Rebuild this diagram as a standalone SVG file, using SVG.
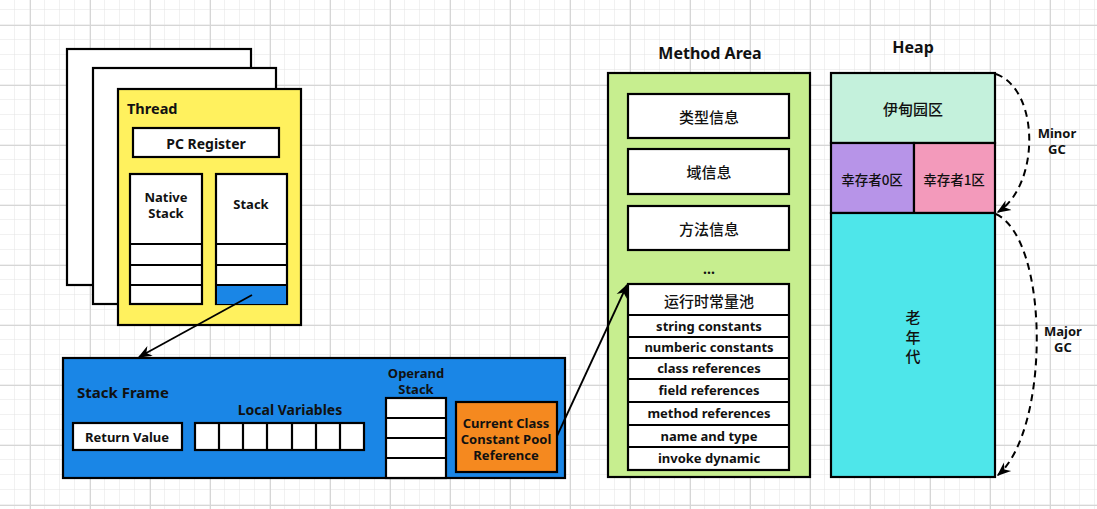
<svg xmlns="http://www.w3.org/2000/svg" width="1097" height="509" viewBox="0 0 1097 509">
<defs>
<pattern id="g" x="0" y="10" width="15" height="15" patternUnits="userSpaceOnUse">
<path d="M15 0V15M0 15H15" fill="none" stroke="#e3e3e3" stroke-width="1"/>
</pattern>
<pattern id="G" x="30" y="25" width="60" height="60" patternUnits="userSpaceOnUse">
<path d="M0.5 0V60M0 0.5H60" fill="none" stroke="#d6d6d6" stroke-width="1"/>
</pattern>
<marker id="ah2" viewBox="0 0 10 10" refX="9" refY="5" markerWidth="14" markerHeight="14" markerUnits="userSpaceOnUse" orient="auto">
<path d="M0 1L10 5L0 9L3 5Z" fill="#000"/>
</marker>
</defs>
<style>
.b{stroke:#000;stroke-width:2.2}
.t{font-family:"Noto Sans","Noto Sans CJK SC",sans-serif;font-weight:bold;font-size:13px;fill:#111;text-anchor:middle;dominant-baseline:central}
.h{font-size:16px}
.c{font-family:"Noto Sans CJK SC","Noto Sans",sans-serif;font-weight:500;font-size:15px}
.l{text-anchor:start}
.w{fill:#fff}
</style>
<rect width="1097" height="509" fill="#fff"/>
<rect width="1097" height="509" fill="url(#g)"/>
<rect width="1097" height="509" fill="url(#G)"/>

<g id="thread-back2"><rect x="67" y="49" width="184" height="236" class="b w"/></g>
<g id="thread-back1"><rect x="93" y="68" width="183" height="236" class="b w"/></g>
<g id="thread">
<rect x="118" y="89" width="183" height="236" class="b" fill="#fff15e"/>
<text x="127" y="108" class="t l" style="font-size:14.5px">Thread</text>
</g>
<g id="pc-register"><rect x="133" y="128" width="146" height="29" class="b w"/><text x="206" y="143" class="t" style="font-size:14px">PC Register</text></g>
<g id="native-stack">
<rect x="130" y="174" width="72" height="130" class="b w"/>
<path d="M130 244H202M130 265H202M130 285H202" class="b"/>
<text x="166" y="196.5" class="t"><tspan x="166">Native</tspan><tspan x="166" dy="16">Stack</tspan></text>
</g>
<g id="stack">
<rect x="216" y="174" width="71" height="130" class="b w"/>
<rect x="217" y="285" width="69" height="19" fill="#1a86e6"/>
<path d="M216 244H287M216 265H287M216 285H287" class="b"/>
<text x="251" y="204" class="t">Stack</text>
</g>

<g id="stack-frame">
<rect x="63" y="358" width="502" height="120" class="b" fill="#1a86e6"/>
<text x="77" y="392" class="t l" style="font-size:15px">Stack Frame</text>
</g>
<g id="return-value"><rect x="73" y="423" width="109" height="27" class="b w"/><text x="127" y="437" class="t">Return Value</text></g>
<g id="local-variables">
<text x="290" y="409" class="t" style="font-size:14px">Local Variables</text>
<rect x="195" y="423" width="169" height="27" class="b w"/>
<path d="M219 423V450M243 423V450M267 423V450M292 423V450M316 423V450M340 423V450" class="b"/>
</g>
<g id="operand-stack">
<text x="416" y="372.5" class="t"><tspan x="416">Operand</tspan><tspan x="416" dy="16">Stack</tspan></text>
<rect x="386" y="398" width="60" height="80" class="b w"/>
<path d="M386 418H446M386 438H446M386 458H446" class="b"/>
</g>
<g id="constant-pool-ref">
<rect x="456" y="402" width="101" height="70" class="b" fill="#f5891f"/>
<text x="506" y="423" class="t"><tspan x="506">Current Class</tspan><tspan x="506" dy="16">Constant Pool</tspan><tspan x="506" dy="16">Reference</tspan></text>
</g>

<g id="method-area">
<text x="710" y="53" class="t h">Method Area</text>
<rect x="608" y="73" width="202" height="404" class="b" fill="#c7ee8f"/>
</g>
<g id="type-info"><rect x="628" y="94" width="161" height="44" class="b w"/><text x="709" y="116" class="t c">类型信息</text></g>
<g id="field-info"><rect x="628" y="149" width="161" height="45" class="b w"/><text x="709" y="171" class="t c">域信息</text></g>
<g id="method-info"><rect x="628" y="206" width="161" height="44" class="b w"/><text x="709" y="228" class="t c">方法信息</text></g>
<g id="ellipsis"><text x="709" y="268" class="t" style="font-size:14px">...</text></g>
<g id="runtime-constant-pool">
<rect x="628" y="284" width="161" height="186" class="b w"/>
<path d="M628 315H789M628 337H789M628 358H789M628 379H789M628 402H789M628 425H789M628 447H789" class="b"/>
<text x="709" y="300" class="t c">运行时常量池</text>
<text x="709" y="326" class="t">string constants</text>
<text x="709" y="347" class="t">numberic constants</text>
<text x="709" y="368" class="t">class references</text>
<text x="709" y="390" class="t">field references</text>
<text x="709" y="413" class="t">method references</text>
<text x="709" y="436" class="t">name and type</text>
<text x="709" y="458" class="t">invoke dynamic</text>
</g>

<g id="heap">
<text x="913" y="47" class="t h">Heap</text>
</g>
<g id="eden"><rect x="831" y="73" width="164" height="70" class="b" fill="#c4f1dc"/><text x="913" y="108" class="t c">伊甸园区</text></g>
<g id="survivor0"><rect x="831" y="143" width="83" height="70" class="b" fill="#b794e8"/><text x="872" y="179" class="t c" style="font-size:13.5px">幸存者0区</text></g>
<g id="survivor1"><rect x="914" y="143" width="81" height="70" class="b" fill="#f39abb"/><text x="954" y="179" class="t c" style="font-size:13.5px">幸存者1区</text></g>
<g id="old-gen"><rect x="831" y="213" width="164" height="264" class="b" fill="#4ee6ea"/>
<text x="913" y="316" class="t c"><tspan x="913">老</tspan><tspan x="913" dy="19.5">年</tspan><tspan x="913" dy="19.5">代</tspan></text></g>

<g id="connectors" fill="none" stroke="#000">
<path d="M252 295L139 357" stroke-width="1.8" marker-end="url(#ah2)"/>
<path d="M557 436L627 285" stroke-width="1.8" marker-end="url(#ah2)"/>
<path d="M996 74C1040 90 1040 185 998 212" stroke-width="2" stroke-dasharray="7 5" marker-end="url(#ah2)"/>
<path d="M996 214C1050 240 1050 430 998 475" stroke-width="2" stroke-dasharray="7 5" marker-end="url(#ah2)"/>
<text x="1057" y="132.5" class="t" stroke="none"><tspan x="1057">Minor</tspan><tspan x="1057" dy="16">GC</tspan></text>
<text x="1063" y="331" class="t" stroke="none"><tspan x="1063">Major</tspan><tspan x="1063" dy="16">GC</tspan></text>
</g>
</svg>
